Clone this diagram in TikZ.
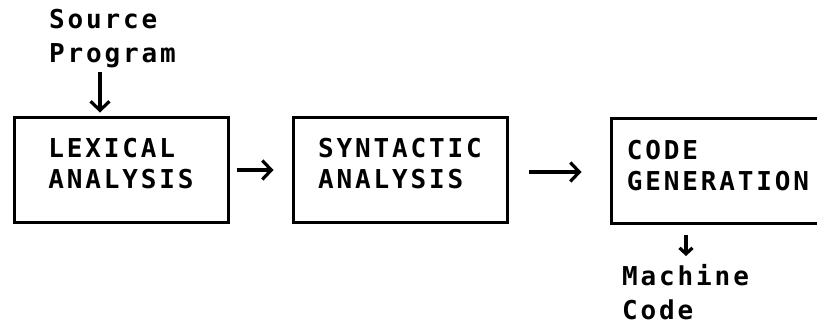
\documentclass[tikz,border=0pt]{standalone}
\usepackage{fontspec}
\newfontfamily\tele[LetterSpace=11]{DejaVu Sans Mono Bold}
\usetikzlibrary{arrows.meta}
\begin{document}
\begin{tikzpicture}[x=1pt,y=-1pt,
  stage/.style={draw, line width=3pt, minimum width=214pt, minimum height=105pt, inner sep=0pt},
  stagetext/.style={align=left, inner sep=0pt, font=\tele\fontsize{26}{31}\selectfont},
  label/.style={align=left, inner sep=0pt, font=\tele\fontsize{26}{34}\selectfont},
  flow/.style={line width=3.2pt, -{Straight Barb[length=9pt,width=19pt,line width=3.2pt]}},
  flowsmall/.style={line width=3.2pt, -{Straight Barb[length=6pt,width=13pt,line width=3.2pt]}}]
\useasboundingbox (0,0) rectangle (817,325);

% the three compiler stages
\node[stage] (lex) at (121,169.5) {};
\node[stage] (syn) at (400,169.5) {};
\node[stage] (gen) at (718,170.5) {};
\node[stagetext] (lextext) at ([yshift=6pt]lex.center) {LEXICAL\\ANALYSIS};
\node[stagetext] (syntext) at ([yshift=6pt]syn.center) {SYNTACTIC\\ANALYSIS};
\node[stagetext] (gentext) at ([yshift=5pt]gen.center) {CODE\\GENERATION};

% input and output texts
\node[label, anchor=north west] (src) at (49,9) {Source\\Program};
\node[label, anchor=north west] (mc) at (622,264) {Machine\\Code};

% connectors
\coordinate (srcend) at (100,72);
\draw[flow] (srcend) -- ([yshift=3pt]lex.north -| srcend);
\draw[flow] ([xshift=7pt]lex.east |- 0,170) -- ([xshift=-18pt]syn.west |- 0,170);
\draw[flow] ([xshift=20pt]syn.east |- 0,172) -- ([xshift=-28pt]gen.west |- 0,172);
\coordinate (genout) at (686,235);
\draw[flowsmall] (genout) -- (686,256);
\end{tikzpicture}
\end{document}
